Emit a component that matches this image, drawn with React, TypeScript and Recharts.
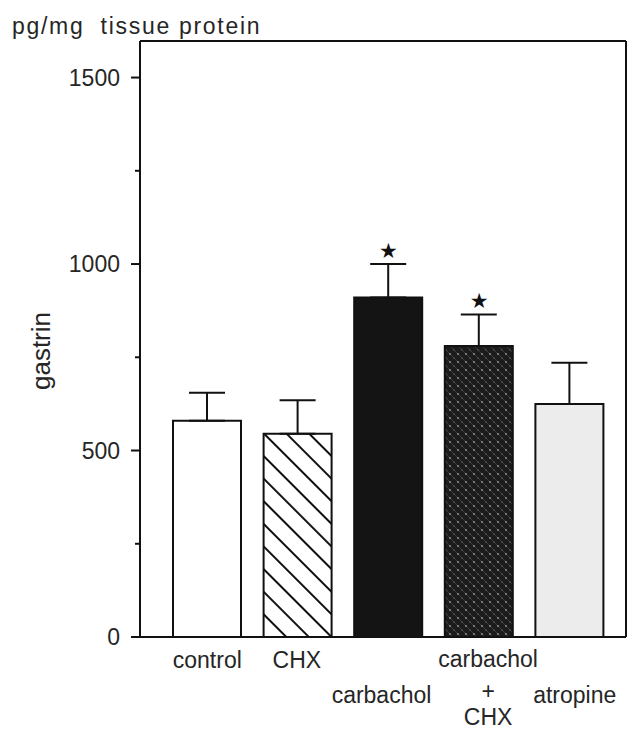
import { ComposedChart, Bar, Line, XAxis, YAxis, ErrorBar, Cell, ReferenceDot } from 'recharts';

const categories = ['control', 'CHX', 'carbachol', 'carbachol + CHX', 'atropine'];
const means = [580, 545, 910, 780, 625];
const sems = [75, 90, 90, 85, 110];
const significant = [false, false, true, true, false];
const tickLines = [['control'], ['CHX'], ['carbachol'], ['carbachol', '+', 'CHX'], ['atropine']];
const yTicks = [0, 250, 500, 750, 1000, 1250, 1500];

const data = categories.map((name, i) => ({
  name,
  gastrin: means[i],
  err: [0, sems[i]],
}));

const FONT = '"Liberation Sans", Arial, Helvetica, sans-serif';
const INK = '#262626';
const AXIS = { stroke: '#111', strokeWidth: 2 };

// bar looks, in category order
const fills = ['#ffffff', 'url(#hatch)', '#141414', 'url(#dots)', '#ececec'];
// staggered label rows: dx and baseline offsets below the axis
const labelPos = [
  { dx: 0, rows: [31] },
  { dx: -1, rows: [31] },
  { dx: -7, rows: [66] },
  { dx: 9, rows: [30, 62, 88] },
  { dx: 5, rows: [66] },
];

function YTick({ x, y, payload }: any) {
  const major = payload.value % 500 === 0;
  return (
    <g>
      <line x1={x - (major ? 9 : 5)} x2={x} y1={y} y2={y} stroke="#111" strokeWidth={2} />
      {major && (
        <text x={x - 20} y={y} dy="0.36em" textAnchor="end" fontSize={23} fontFamily={FONT} fill={INK}>
          {payload.value}
        </text>
      )}
    </g>
  );
}

function XTick({ x, y, payload }: any) {
  const i = categories.indexOf(payload.value);
  const lines = tickLines[i];
  const pos = labelPos[i];
  return (
    <g>
      {lines.map((t, k) => (
        <text key={k} x={x + pos.dx} y={y + pos.rows[k]} textAnchor="middle" fontSize={23} fontFamily={FONT} fill={INK}>
          {t}
        </text>
      ))}
    </g>
  );
}

function Star({ cx, cy }: any) {
  return (
    <text x={cx} y={cy - 14} dy="0.38em" textAnchor="middle" fontSize={21} fontFamily="DejaVu Sans" fill="#111">
      ★
    </text>
  );
}

function GastrinLabel({ viewBox }: any) {
  const cx = viewBox.x + 41;
  const cy = viewBox.y + 310;
  return (
    <text x={cx} y={cy} transform={`rotate(-90 ${cx} ${cy})`} textAnchor="middle" dy="0.35em" fontSize={26} fontFamily={FONT} fill={INK}>
      gastrin
    </text>
  );
}

export default function App() {
  return (
    <div style={{ position: 'absolute', left: 0, top: 0, width: 629, height: 730, background: '#fff' }}>
      <svg width={0} height={0} style={{ position: 'absolute' }}>
        <defs>
          <pattern id="hatch" width={16} height={16} patternUnits="userSpaceOnUse" patternTransform="rotate(45)">
            <rect width={16} height={16} fill="#fff" />
            <line x1={0} y1={8} x2={16} y2={8} stroke="#111" strokeWidth={2} />
          </pattern>
          <pattern id="dots" width={8} height={8} patternUnits="userSpaceOnUse">
            <rect width={8} height={8} fill="#1c1c1c" />
            <line x1={0} y1={0} x2={8} y2={8} stroke="#3a3a3a" strokeWidth={1} />
            <circle cx={2} cy={2} r={0.9} fill="#9a9a9a" />
            <circle cx={6} cy={6} r={0.7} fill="#6a6a6a" />
          </pattern>
        </defs>
      </svg>
      <div
        style={{
          position: 'absolute',
          left: 12,
          top: 15,
          fontFamily: FONT,
          fontSize: 23,
          lineHeight: '23px',
          letterSpacing: 1.7,
          color: INK,
          whiteSpace: 'pre',
        }}
      >
        {'pg/mg  tissue protein'}
      </div>
      <ComposedChart width={629} height={730} data={data} margin={{ top: 39, right: 1, bottom: 0, left: 0 }}>
        <XAxis
          dataKey="name"
          height={93}
          padding={{ left: 22, right: 11 }}
          axisLine={AXIS}
          tickLine={false}
          tickSize={0}
          tickMargin={0}
          interval={0}
          tick={<XTick />}
        />
        {/* top and right axes just close the frame */}
        <XAxis xAxisId="top" dataKey="name" orientation="top" height={2} tick={false} tickLine={false} axisLine={AXIS} />
        <YAxis
          width={140}
          domain={[0, 1598]}
          ticks={yTicks}
          interval={0}
          axisLine={AXIS}
          tickLine={false}
          tickSize={0}
          tickMargin={0}
          tick={<YTick />}
          label={<GastrinLabel />}
        />
        <YAxis yAxisId="right" orientation="right" width={2} domain={[0, 1598]} tick={false} tickLine={false} axisLine={AXIS} />
        <Bar dataKey="gastrin" barSize={68} isAnimationActive={false}>
          {data.map((d, i) => (
            <Cell key={d.name} fill={fills[i]} stroke="#111" strokeWidth={2} />
          ))}
          <ErrorBar dataKey="err" direction="y" width={18} stroke="#111" strokeWidth={2} isAnimationActive={false} />
        </Bar>
        <Line
          xAxisId="top"
          yAxisId="right"
          dataKey="gastrin"
          stroke="none"
          dot={false}
          activeDot={false}
          legendType="none"
          isAnimationActive={false}
        />
        {data.map((d, i) =>
          significant[i] ? (
            <ReferenceDot key={d.name} x={d.name} y={means[i] + sems[i]} ifOverflow="visible" shape={<Star />} />
          ) : null
        )}
      </ComposedChart>
    </div>
  );
}
